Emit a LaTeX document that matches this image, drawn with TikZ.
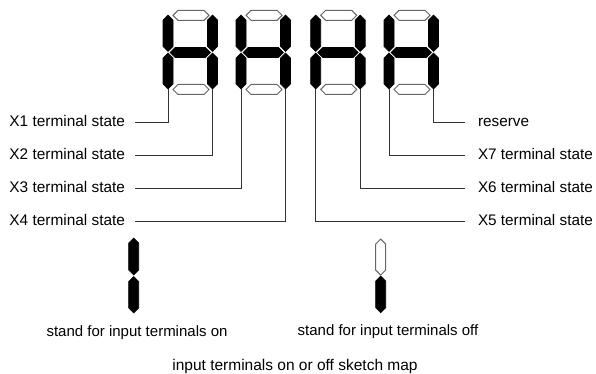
\documentclass[tikz,border=0pt]{standalone}
\usepackage{fontspec}
\setmainfont{Liberation Sans}
\tikzset{
    segon/.style={draw=black, fill=black, line width=0.6pt},
    segoff/.style={draw=black!60, fill=white, line width=1pt},
    wire/.style={draw=black!80, line width=0.8pt},
    leftlabel/.style={anchor=east, inner sep=0pt, outer xsep=10pt, text height=11pt, text depth=3pt, font=\fontsize{15.4}{17}\selectfont},
    rightlabel/.style={anchor=west, inner sep=0pt, outer xsep=13pt, text height=11pt, text depth=3pt, font=\fontsize{15.3}{17}\selectfont},
    caption/.style={anchor=base, inner sep=0pt, font=\fontsize{15}{17}\selectfont}
}
% upright and lying segments, #1 style, (#2,#3) top or left end, #4 length
\newcommand{\vseg}[4]{\path[#1] (#2,#3) -- ++(5,5) -- ++(0,#4-10) -- ++(-5,5) -- ++(-5,-5) -- ++(0,-#4+10) -- cycle;}
\newcommand{\hseg}[4]{\path[#1] (#2,#3) -- ++(5,-5) -- ++(#4-10,0) -- ++(5,5) -- ++(-5,5) -- ++(-#4+10,0) -- cycle;}
\begin{document}
\begin{tikzpicture}[x=1pt, y=-1pt]
    \useasboundingbox (0,0) rectangle (596,374);
    % four digits
    \foreach \dx/\name in {168/a, 241/b, 315.7/c, 389/d} {
        \vseg{segon}{\dx}{15}{36.5}
        \vseg{segon}{\dx}{53}{36}
        \vseg{segon}{\dx+44.5}{15}{36.5}
        \vseg{segon}{\dx+44.5}{53}{36}
        \hseg{segoff}{\dx+5}{15.3}{36}
        \hseg{segon}{\dx+2}{52.5}{40.5}
        \hseg{segoff}{\dx+5}{89.5}{36}
        \coordinate (\name l) at (\dx,89);
        \coordinate (\name r) at (\dx+44.5,89);
    }
    % terminal labels
    \node[leftlabel] (xone) at (135,122.5) {X1 terminal state};
    \node[leftlabel] (xtwo) at (135,155.5) {X2 terminal state};
    \node[leftlabel] (xthree) at (135,188.5) {X3 terminal state};
    \node[leftlabel] (xfour) at (135,221) {X4 terminal state};
    \node[rightlabel] (res) at (465,122.5) {reserve};
    \node[rightlabel] (xseven) at (465,155.5) {X7 terminal state};
    \node[rightlabel] (xsix) at (465,188.5) {X6 terminal state};
    \node[rightlabel] (xfive) at (465,221) {X5 terminal state};

    \draw[wire] (xone.east) -| (al);
    \draw[wire] (xtwo.east) -| (ar);
    \draw[wire] (xthree.east) -| (bl);
    \draw[wire] (xfour.east) -| (br);
    \draw[wire] (xfive.west) -| (cl);
    \draw[wire] (xsix.west) -| (cr);
    \draw[wire] (xseven.west) -| (dl);
    \draw[wire] (res.west) -| (dr);

    % legend
    \vseg{segon}{133.7}{238}{37}
    \vseg{segon}{133.7}{276.5}{36.5}
    \vseg{segoff}{380.7}{239}{36}
    \vseg{segon}{380.7}{276}{36.7}
    \node[caption] (onlabel) at (137,336.5) {stand for input terminals on};
    \node[caption] (offlabel) at (388,335) {stand for input terminals off};
    \node[caption, font=\fontsize{15.5}{17}\selectfont] (maplabel) at (295,370) {input terminals on or off sketch map};
\end{tikzpicture}
\end{document}
